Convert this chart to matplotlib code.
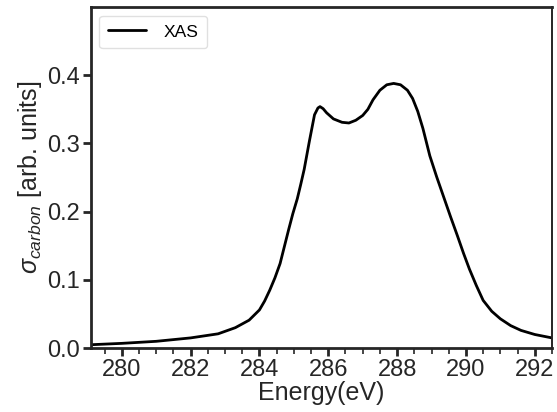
import matplotlib
matplotlib.use("Agg")
import matplotlib.pyplot as plt
from matplotlib.ticker import MultipleLocator

energy = [279.1, 280.0, 281.0, 282.0, 282.8, 283.3, 283.7, 284.0, 284.15, 284.3,
          284.45, 284.6, 284.72, 284.85, 284.97, 285.1, 285.2, 285.3, 285.45, 285.6,
          285.7, 285.76, 285.85, 285.95, 286.15, 286.4, 286.6, 286.8, 287.0, 287.15,
          287.3, 287.5, 287.7, 287.9, 288.1, 288.3, 288.45, 288.6, 288.75, 288.85,
          288.95, 289.15, 289.35, 289.55, 289.75, 289.93, 290.1, 290.3, 290.5, 290.75,
          291.0, 291.3, 291.6, 292.0, 292.5]
sigma = [0.005, 0.007, 0.010, 0.015, 0.021, 0.030, 0.041, 0.056, 0.069, 0.085,
         0.103, 0.124, 0.148, 0.174, 0.197, 0.219, 0.240, 0.262, 0.303, 0.342,
         0.352, 0.354, 0.351, 0.345, 0.336, 0.331, 0.330, 0.334, 0.341, 0.350,
         0.364, 0.378, 0.386, 0.388, 0.386, 0.378, 0.366, 0.347, 0.322, 0.302,
         0.282, 0.251, 0.222, 0.193, 0.165, 0.139, 0.116, 0.092, 0.070, 0.054,
         0.043, 0.033, 0.026, 0.020, 0.015]
xticks = [280, 282, 284, 286, 288, 290, 292]
yticks = [0.0, 0.1, 0.2, 0.3, 0.4]

plt.rcParams['mathtext.fontset'] = 'custom'
plt.rcParams['mathtext.rm'] = 'Liberation Sans'
plt.rcParams['mathtext.it'] = 'Liberation Sans:italic'
plt.rcParams['font.family'] = ['Liberation Sans', 'DejaVu Sans']

edge = '#262626'
fig = plt.figure(figsize=(5.57, 4.12), dpi=100)
ax = fig.add_axes([0.163, 0.155, 0.828, 0.828])
ax.plot(energy, sigma, color='black', lw=2, label='XAS',
        solid_joinstyle='round', solid_capstyle='round')
ax.set_xlim(279.1, 292.5)
ax.set_ylim(0, 0.5)
ax.set_xticks(xticks)
ax.set_yticks(yticks)
ax.set_xticklabels([str(t) for t in xticks])
ax.set_yticklabels([f"{t:.1f}" for t in yticks])
ax.xaxis.set_minor_locator(MultipleLocator(0.5))
for name, sp in ax.spines.items():
    sp.set_color(edge)
    sp.set_linewidth(2.0 if name != 'right' else 1.4)
ax.tick_params(axis='both', which='major', direction='out', length=6, width=2,
               color=edge, labelcolor=edge, labelsize=17, pad=2)
ax.tick_params(axis='x', which='minor', direction='out', length=4, width=1.2, color=edge)
ax.set_xlabel('Energy(eV)', fontsize=18, color=edge, labelpad=0)
ax.set_ylabel(r'$\sigma_{carbon}$ [arb. units]', fontsize=18, color=edge, labelpad=2)
leg = ax.legend(loc='upper left', fontsize=12.5, frameon=True, handlelength=2.2,
                borderpad=0.5, handletextpad=1.0, borderaxespad=0.5)
leg.get_frame().set_edgecolor('#d9d9d9')
leg.get_frame().set_linewidth(1.0)
fig.savefig('out.png', dpi=100)
